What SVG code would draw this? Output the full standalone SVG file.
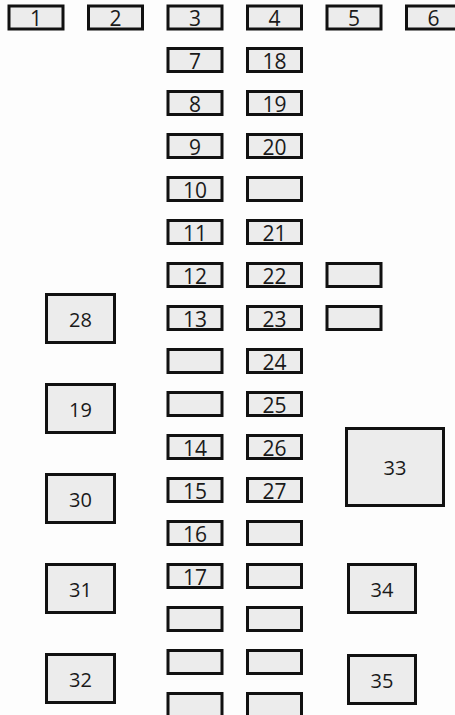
<svg xmlns="http://www.w3.org/2000/svg" width="455" height="715" viewBox="0 0 455 715">
<style>
.b{fill:#ececec;stroke:#111;stroke-width:3}
.t{font-family:"Open Sans","Liberation Sans",sans-serif;font-size:21px;fill:#1a1a1a;text-anchor:middle}
.L{font-size:20px}
</style>
<rect width="455" height="715" fill="#fdfdfd"/>
<g id="f1"><rect class="b" x="9" y="6" width="54" height="23"/><text class="t" x="36" y="25.5">1</text></g>
<g id="f2"><rect class="b" x="88.5" y="6" width="54" height="23"/><text class="t" x="115.5" y="25.5">2</text></g>
<g id="f3"><rect class="b" x="168" y="6" width="54" height="23"/><text class="t" x="195" y="25.5">3</text></g>
<g id="f4"><rect class="b" x="247.5" y="6" width="54" height="23"/><text class="t" x="274.5" y="25.5">4</text></g>
<g id="f5"><rect class="b" x="327" y="6" width="54" height="23"/><text class="t" x="354" y="25.5">5</text></g>
<g id="f6"><rect class="b" x="406.5" y="6" width="54" height="23"/><text class="t" x="433.5" y="25.5">6</text></g>

<g id="f7"><rect class="b" x="168" y="48.5" width="54" height="23"/><text class="t" x="195" y="68.5">7</text></g>
<g id="f8"><rect class="b" x="168" y="91.5" width="54" height="23"/><text class="t" x="195" y="111.5">8</text></g>
<g id="f9"><rect class="b" x="168" y="134.5" width="54" height="23"/><text class="t" x="195" y="154.5">9</text></g>
<g id="f10"><rect class="b" x="168" y="177.5" width="54" height="23"/><text class="t" x="195" y="197.5">10</text></g>
<g id="f11"><rect class="b" x="168" y="220.5" width="54" height="23"/><text class="t" x="195" y="240.5">11</text></g>
<g id="f12"><rect class="b" x="168" y="263.5" width="54" height="23"/><text class="t" x="195" y="283.5">12</text></g>
<g id="f13"><rect class="b" x="168" y="306.5" width="54" height="23"/><text class="t" x="195" y="326.5">13</text></g>
<g id="c3r8"><rect class="b" x="168" y="349.5" width="54" height="23"/></g>
<g id="c3r9"><rect class="b" x="168" y="392.5" width="54" height="23"/></g>
<g id="f14"><rect class="b" x="168" y="435.5" width="54" height="23"/><text class="t" x="195" y="455.5">14</text></g>
<g id="f15"><rect class="b" x="168" y="478.5" width="54" height="23"/><text class="t" x="195" y="498.5">15</text></g>
<g id="f16"><rect class="b" x="168" y="521.5" width="54" height="23"/><text class="t" x="195" y="541.5">16</text></g>
<g id="f17"><rect class="b" x="168" y="564.5" width="54" height="23"/><text class="t" x="195" y="584.5">17</text></g>
<g id="c3r14"><rect class="b" x="168" y="607.5" width="54" height="23"/></g>
<g id="c3r15"><rect class="b" x="168" y="650.5" width="54" height="23"/></g>
<g id="c3r16"><rect class="b" x="168" y="693.5" width="54" height="23"/></g>

<g id="f18"><rect class="b" x="247.5" y="48.5" width="54" height="23"/><text class="t" x="274.5" y="68.5">18</text></g>
<g id="f19a"><rect class="b" x="247.5" y="91.5" width="54" height="23"/><text class="t" x="274.5" y="111.5">19</text></g>
<g id="f20"><rect class="b" x="247.5" y="134.5" width="54" height="23"/><text class="t" x="274.5" y="154.5">20</text></g>
<g id="c4r4"><rect class="b" x="247.5" y="177.5" width="54" height="23"/></g>
<g id="f21"><rect class="b" x="247.5" y="220.5" width="54" height="23"/><text class="t" x="274.5" y="240.5">21</text></g>
<g id="f22"><rect class="b" x="247.5" y="263.5" width="54" height="23"/><text class="t" x="274.5" y="283.5">22</text></g>
<g id="f23"><rect class="b" x="247.5" y="306.5" width="54" height="23"/><text class="t" x="274.5" y="326.5">23</text></g>
<g id="f24"><rect class="b" x="247.5" y="349.5" width="54" height="23"/><text class="t" x="274.5" y="369.5">24</text></g>
<g id="f25"><rect class="b" x="247.5" y="392.5" width="54" height="23"/><text class="t" x="274.5" y="412.5">25</text></g>
<g id="f26"><rect class="b" x="247.5" y="435.5" width="54" height="23"/><text class="t" x="274.5" y="455.5">26</text></g>
<g id="f27"><rect class="b" x="247.5" y="478.5" width="54" height="23"/><text class="t" x="274.5" y="498.5">27</text></g>
<g id="c4r12"><rect class="b" x="247.5" y="521.5" width="54" height="23"/></g>
<g id="c4r13"><rect class="b" x="247.5" y="564.5" width="54" height="23"/></g>
<g id="c4r14"><rect class="b" x="247.5" y="607.5" width="54" height="23"/></g>
<g id="c4r15"><rect class="b" x="247.5" y="650.5" width="54" height="23"/></g>
<g id="c4r16"><rect class="b" x="247.5" y="693.5" width="54" height="23"/></g>

<g id="c5r6"><rect class="b" x="327" y="263.5" width="54" height="23"/></g>
<g id="c5r7"><rect class="b" x="327" y="306.5" width="54" height="23"/></g>

<g id="f28"><rect class="b" x="46.5" y="294.5" width="68" height="48"/><text class="t L" x="80.5" y="327">28</text></g>
<g id="f19b"><rect class="b" x="46.5" y="384.5" width="68" height="48"/><text class="t L" x="80.5" y="417">19</text></g>
<g id="f30"><rect class="b" x="46.5" y="474.5" width="68" height="48"/><text class="t L" x="80.5" y="507">30</text></g>
<g id="f31"><rect class="b" x="46.5" y="564.5" width="68" height="48"/><text class="t L" x="80.5" y="597">31</text></g>
<g id="f32"><rect class="b" x="46.5" y="654.5" width="68" height="48"/><text class="t L" x="80.5" y="687">32</text></g>

<g id="f33"><rect class="b" x="346.5" y="428.5" width="97" height="77"/><text class="t L" x="395" y="475">33</text></g>
<g id="f34"><rect class="b" x="348.5" y="564.5" width="67" height="48"/><text class="t L" x="382" y="597">34</text></g>
<g id="f35"><rect class="b" x="348.5" y="655.5" width="67" height="48"/><text class="t L" x="382" y="688">35</text></g>
<g id="connectors"/>
</svg>
